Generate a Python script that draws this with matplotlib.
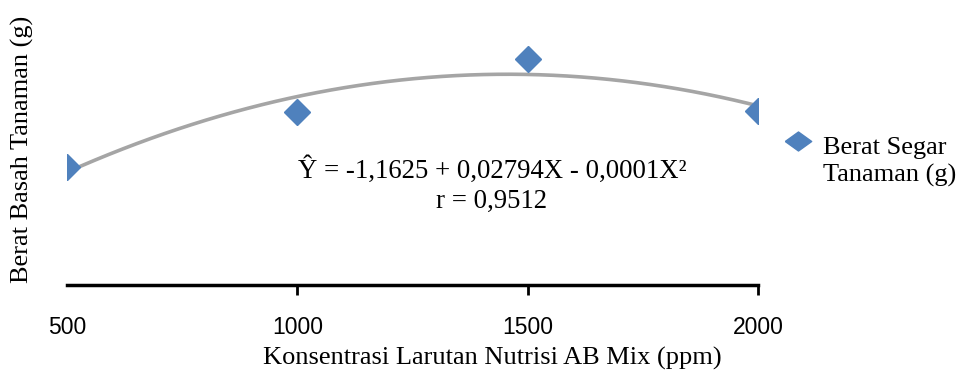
import numpy as np
import matplotlib
matplotlib.use("Agg")
import matplotlib.pyplot as plt

# data
konsentrasi = [500, 1000, 1500, 2000]
berat = [11.8, 17.3, 22.6, 17.4]
ticks_x = [500, 1000, 1500, 2000]

serif = ['Liberation Serif', 'DejaVu Serif']
sans = ['Liberation Sans', 'DejaVu Sans']

fig = plt.figure(figsize=(9.61, 3.74), dpi=100)
ax = fig.add_axes([67/961, (374-285)/374, 691/961, 260/374])

# quadratic trend line fitted from the points
coef = np.polyfit(konsentrasi, berat, 2)
xs = np.linspace(500, 2000, 200)
ax.plot(xs, np.polyval(coef, xs), color='#A5A5A5', lw=2.6, zorder=2)
ax.plot(konsentrasi, berat, 'D', color='#4F81BD', ms=13, mec='#4F81BD', zorder=3)

ax.set_xlim(500, 2000)
ax.set_ylim(0, 26)
ax.set_xticks(ticks_x)
ax.set_xticklabels([str(t) for t in ticks_x], family=sans, fontsize=16.5)
ax.tick_params(axis='x', direction='out', length=7, width=2, pad=15)
ax.xaxis.get_major_ticks()[0].tick1line.set_visible(False)
ax.set_yticks([])
for s in ['top', 'right', 'left']:
    ax.spines[s].set_visible(False)
ax.spines['bottom'].set_linewidth(2.5)

fig.text(492/961, 1-358/374, 'Konsentrasi Larutan Nutrisi AB Mix (ppm)', family=serif,
         fontsize=19, ha='center', va='center')
fig.text(22/961, 1-149/374, 'Berat Basah Tanaman (g)', family=serif, fontsize=19,
         rotation=90, ha='center', va='center')

fig.text(492/961, 1-170/374, 'Ŷ = -1,1625 + 0,02794X - 0,0001X²', family=serif,
         fontsize=19.3, ha='center', va='center')
fig.text(492/961, 1-201/374, 'r = 0,9512', family=serif,
         fontsize=19.3, ha='center', va='center')

# legend drawn by hand (flatter diamond like the original)
flat_diamond = [(-1, 0), (0, 0.72), (1, 0), (0, -0.72), (-1, 0)]
fig.lines.append(plt.Line2D([798/961], [1-141/374], marker=flat_diamond, color='#4F81BD',
                            ms=19, transform=fig.transFigure))
fig.text(823/961, 1-162/374, 'Berat Segar\nTanaman (g)', family=serif, fontsize=19,
         ha='left', va='center', linespacing=1.3)

fig.savefig('out.png', dpi=100)
